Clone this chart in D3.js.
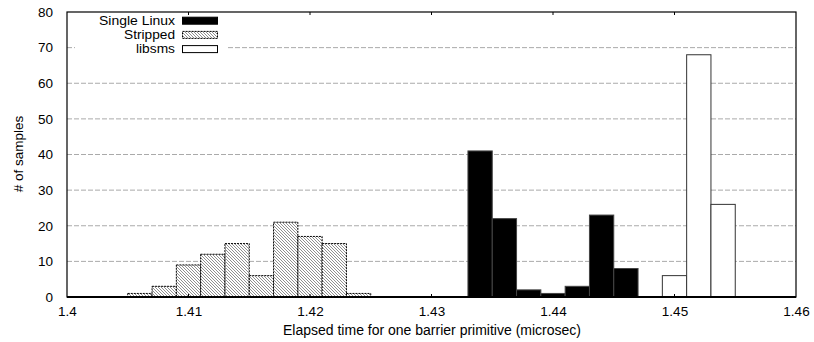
<!DOCTYPE html>
<html>
<head>
<meta charset="utf-8">
<script src="https://cdn.jsdelivr.net/npm/d3@7"></script>
<style>
  body { margin: 0; background: #fff; }
  text { font-family: 'Liberation Sans', Arial, sans-serif; fill: #000; }
</style>
</head>
<body>
<div class="canvas"></div>
<script>
// data: histogram bins (bin centers, width 0.002)
const binWidth = 0.002;
const linuxX = [1.434, 1.436, 1.438, 1.440, 1.442, 1.444, 1.446];
const linuxVals = [41, 22, 2, 1, 3, 23, 8];
const strippedX = [1.406, 1.408, 1.410, 1.412, 1.414, 1.416, 1.418, 1.420, 1.422, 1.424];
const strippedVals = [1, 3, 9, 12, 15, 6, 21, 17, 15, 1];
const libsmsX = [1.450, 1.452, 1.454];
const libsmsVals = [6, 68, 26];
const xTicks = [1.4, 1.41, 1.42, 1.43, 1.44, 1.45, 1.46];
const yTicks = [0, 10, 20, 30, 40, 50, 60, 70, 80];
const seriesNames = ['Single Linux', 'Stripped', 'libsms'];
const legendWidths = [76, 51, 39]; // text looks a bit stretched in the original

const dims = { width: 814, height: 342, left: 67, right: 796, top: 12, bottom: 297 };

const svg = d3.select('.canvas')
  .append('svg')
  .attr('width', dims.width)
  .attr('height', dims.height);

// hatch pattern for the stripped series
const defs = svg.append('defs');
const pat = defs.append('pattern')
  .attr('id', 'hatch')
  .attr('patternUnits', 'userSpaceOnUse')
  .attr('width', 3)
  .attr('height', 3);
pat.append('rect').attr('width', 3).attr('height', 3).attr('fill', '#fff');
pat.append('path')
  .attr('d', 'M-1,-1 L4,4 M-1,2 L1,4 M2,-1 L4,1')
  .attr('stroke', '#333')
  .attr('stroke-width', 0.55);

// scales
const x = d3.scaleLinear().domain([1.4, 1.46]).range([dims.left, dims.right]);
const y = d3.scaleLinear().domain([0, 80]).range([dims.bottom, dims.top]);

// grid
svg.append('g')
  .selectAll('line')
  .data(yTicks.filter((d) => d > 0 && d < 80))
  .enter()
  .append('line')
  .attr('x1', dims.left)
  .attr('x2', dims.right)
  .attr('y1', (d) => y(d))
  .attr('y2', (d) => y(d))
  .attr('stroke', '#aaa')
  .attr('stroke-width', 1)
  .attr('stroke-dasharray', '5,2');

// bars
const drawBars = (xs, vals, fill, stroke, dash) => {
  const data = xs.map((c, i) => ({ c: c, v: vals[i] }));
  svg.append('g')
    .selectAll('rect')
    .data(data)
    .enter()
    .append('rect')
    .attr('x', (d) => x(d.c - binWidth / 2))
    .attr('width', (d) => x(d.c + binWidth / 2) - x(d.c - binWidth / 2))
    .attr('y', (d) => y(d.v))
    .attr('height', (d) => y(0) - y(d.v))
    .attr('fill', fill)
    .attr('stroke', stroke)
    .attr('stroke-width', 1)
    .attr('stroke-dasharray', dash);
};
drawBars(linuxX, linuxVals, '#000', '#444', null);
drawBars(strippedX, strippedVals, 'url(#hatch)', '#000', '2,1');
drawBars(libsmsX, libsmsVals, '#fff', '#333', null);

// legend (opaque box, like gnuplot)
const legend = svg.append('g');
legend.append('rect')
  .attr('x', 75).attr('y', dims.top + 1)
  .attr('width', 151).attr('height', 44)
  .attr('fill', '#fff');
const legFill = ['#000', 'url(#hatch)', '#fff'];
seriesNames.forEach((name, i) => {
  const cy = 20.7 + i * 14.2;
  legend.append('text')
    .attr('x', 175)
    .attr('y', cy)
    .attr('dy', '0.35em')
    .attr('text-anchor', 'end')
    .attr('font-size', 12)
    .attr('textLength', legendWidths[i])
    .attr('lengthAdjust', 'spacingAndGlyphs')
    .text(name);
  legend.append('rect')
    .attr('x', 182.5)
    .attr('y', cy - 3.5)
    .attr('width', 35)
    .attr('height', 7)
    .attr('fill', legFill[i])
    .attr('stroke', '#000')
    .attr('stroke-width', 1)
    .attr('stroke-dasharray', i === 1 ? '2,1' : null);
});

// frame
svg.append('rect')
  .attr('x', dims.left)
  .attr('y', dims.top)
  .attr('width', dims.right - dims.left)
  .attr('height', dims.bottom - dims.top)
  .attr('fill', 'none')
  .attr('stroke', '#000')
  .attr('stroke-width', 1.2);
svg.append('line')
  .attr('x1', dims.left).attr('x2', dims.right)
  .attr('y1', dims.bottom).attr('y2', dims.bottom)
  .attr('stroke', '#000')
  .attr('stroke-width', 2);

// inward ticks on top and bottom
const ticks = svg.append('g').attr('stroke', '#000').attr('stroke-width', 1);
xTicks.slice(1, -1).forEach((t) => {
  ticks.append('line').attr('x1', x(t)).attr('x2', x(t)).attr('y1', dims.bottom).attr('y2', dims.bottom - 3);
  ticks.append('line').attr('x1', x(t)).attr('x2', x(t)).attr('y1', dims.top).attr('y2', dims.top + 3);
});

// tick labels via d3 axes (no lines)
const xAxis = d3.axisBottom(x).tickValues(xTicks).tickFormat(d3.format('')).tickSize(0).tickPadding(9);
const yAxis = d3.axisLeft(y).tickValues(yTicks).tickSize(0).tickPadding(14);

const xg = svg.append('g').attr('transform', `translate(0, ${dims.bottom})`).call(xAxis);
const yg = svg.append('g').attr('transform', `translate(${dims.left}, 0)`).call(yAxis);
[xg, yg].forEach((g) => {
  g.select('path.domain').remove();
  g.selectAll('text')
    .attr('font-family', "'Liberation Sans', Arial, sans-serif")
    .attr('font-size', 13.5)
    .attr('fill', '#000');
});

// axis titles
svg.append('text')
  .attr('x', 432)
  .attr('y', 335)
  .attr('text-anchor', 'middle')
  .attr('font-size', 14)
  .text('Elapsed time for one barrier primitive (microsec)');
svg.append('text')
  .attr('transform', `translate(23, 154) rotate(-90)`)
  .attr('text-anchor', 'middle')
  .attr('font-size', 13.5)
  .text('# of samples');
</script>
</body>
</html>
